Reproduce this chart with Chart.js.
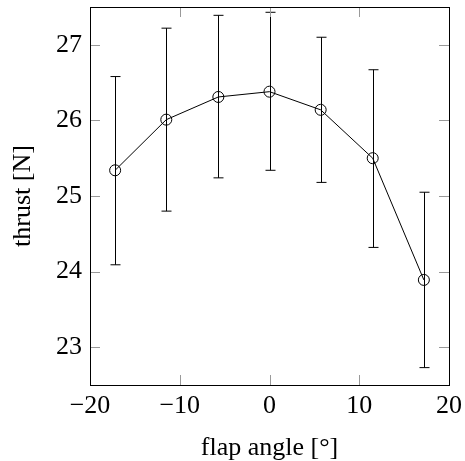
<!DOCTYPE html>
<html>
<head>
<meta charset="utf-8">
<script src="https://cdn.jsdelivr.net/npm/chart.js@4"></script>
<style>
  html, body { margin: 0; padding: 0; background: #fff; }
  #wrap { width: 465px; height: 461px; }
</style>
</head>
<body>
<div id="wrap"><canvas id="c" width="465" height="461"></canvas></div>
<script>
// flap angle sweep, thrust with min/max spread
const angles  = [-17.2, -11.5, -5.7, 0, 5.7, 11.5, 17.2];
const thrust  = [25.34, 26.01, 26.31, 26.38, 26.14, 25.50, 23.89];
const errHigh = [26.58, 27.22, 27.39, 27.43, 27.10, 26.67, 25.05];
const errLow  = [24.09, 24.80, 25.24, 25.34, 25.18, 24.32, 22.73];

const xTicks = [-20, -10, 0, 10, 20];
const yTicks = [23, 24, 25, 26, 27];

const FONT = "'Liberation Serif', 'Times New Roman', serif";
const minus = v => String(v).replace("-", "\u2212");

// vertical error bars with caps, drawn under the markers
const errorBars = {
  id: "errorBars",
  beforeDatasetsDraw(chart) {
    const { ctx, scales: { x, y } } = chart;
    ctx.save();
    ctx.strokeStyle = "#000";
    ctx.lineWidth = 1;
    angles.forEach((a, i) => {
      const px = Math.round(x.getPixelForValue(a)) + 0.5;
      const hi = y.getPixelForValue(errHigh[i]);
      const lo = y.getPixelForValue(errLow[i]);
      ctx.beginPath();
      ctx.moveTo(px, hi); ctx.lineTo(px, lo);
      ctx.moveTo(px - 5, hi); ctx.lineTo(px + 5, hi);
      ctx.moveTo(px - 5, lo); ctx.lineTo(px + 5, lo);
      ctx.stroke();
    });
    ctx.restore();
  }
};

// full box + inward tick marks on every side (pgfplots look)
const frame = {
  id: "frame",
  afterDraw(chart) {
    const { ctx, chartArea: a, scales: { x, y } } = chart;
    const L = 10;
    ctx.save();
    ctx.strokeStyle = "#999";
    ctx.lineWidth = 1;
    ctx.beginPath();
    xTicks.forEach(v => {
      const px = Math.round(x.getPixelForValue(v)) + 0.5;
      ctx.moveTo(px, a.bottom); ctx.lineTo(px, a.bottom - L);
      ctx.moveTo(px, a.top); ctx.lineTo(px, a.top + L);
    });
    yTicks.forEach(v => {
      const py = Math.round(y.getPixelForValue(v)) + 0.5;
      ctx.moveTo(a.left, py); ctx.lineTo(a.left + L, py);
      ctx.moveTo(a.right, py); ctx.lineTo(a.right - L, py);
    });
    ctx.stroke();
    ctx.strokeStyle = "#000";
    ctx.strokeRect(Math.round(a.left) + 0.5, Math.round(a.top) + 0.5,
                   Math.round(a.right - a.left), Math.round(a.bottom - a.top));
    ctx.restore();
  }
};

new Chart(document.getElementById("c"), {
  type: "line",
  data: {
    datasets: [{
      data: angles.map((a, i) => ({ x: a, y: thrust[i] })),
      borderColor: "#000",
      borderWidth: 1,
      pointRadius: 5.5,
      pointBorderWidth: 1,
      pointBorderColor: "#000",
      pointBackgroundColor: "rgba(0,0,0,0)",
      tension: 0, fill: false
    }]
  },
  options: {
    responsive: false,
    animation: false,
    layout: { padding: { top: 7, right: 16, left: 0, bottom: 0 } },
    plugins: { legend: { display: false }, tooltip: { enabled: false } },
    scales: {
      x: {
        type: "linear", min: -20, max: 20,
        afterBuildTicks: s => { s.ticks = xTicks.map(v => ({ value: v })); },
        afterFit: s => { s.height = 76; s.paddingLeft = 0; s.paddingRight = 0; },
        grid: { display: false, drawTicks: false },
        border: { display: false },
        ticks: { color: "#000", padding: 6, maxRotation: 0, font: { family: FONT, size: 26 }, callback: minus },
        title: { display: true, text: "flap angle [°]", color: "#000", padding: 0,
                 font: { family: FONT, size: 26, lineHeight: 1 } }
      },
      y: {
        type: "linear", min: 22.5, max: 27.5,
        afterBuildTicks: s => { s.ticks = yTicks.map(v => ({ value: v })); },
        afterFit: s => { s.width = 90; s.paddingTop = 0; s.paddingBottom = 0; },
        grid: { display: false, drawTicks: false },
        border: { display: false },
        ticks: { color: "#000", padding: 8, font: { family: FONT, size: 26 }, callback: minus },
        title: { display: true, text: "thrust [N]", color: "#000", padding: 8,
                 font: { family: FONT, size: 26, lineHeight: 1.2 } }
      }
    }
  },
  plugins: [errorBars, frame]
});
</script>
</body>
</html>
